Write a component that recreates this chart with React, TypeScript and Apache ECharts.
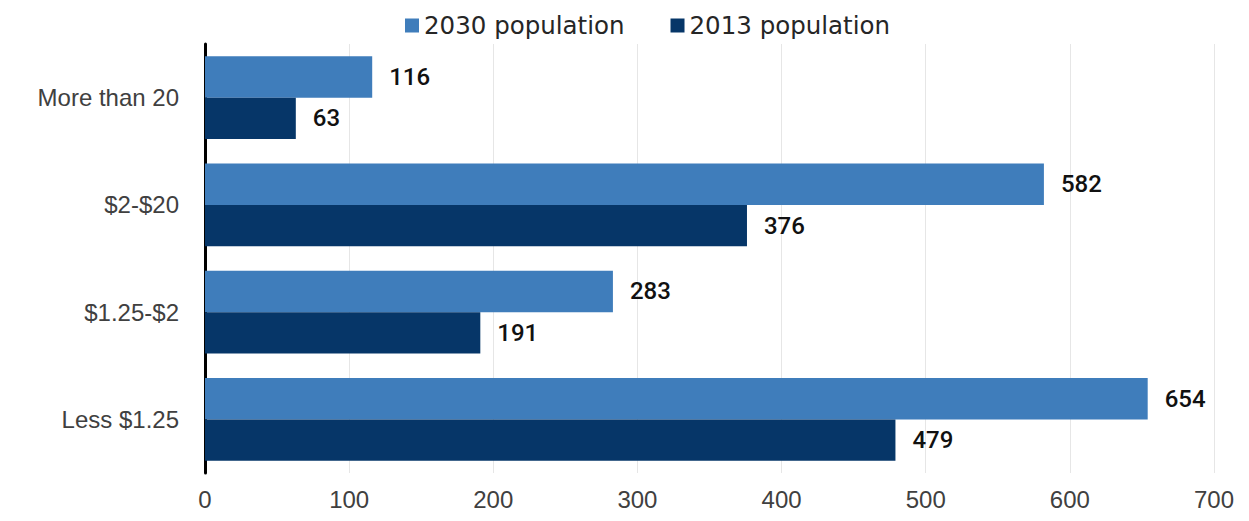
import React, { useEffect, useRef } from "react";
import * as echarts from "echarts";

const categories = ["Less $1.25", "$1.25-$2", "$2-$20", "More than 20"];
const pop2030 = [654, 283, 582, 116];
const pop2013 = [479, 191, 376, 63];
const xTicks = [0, 100, 200, 300, 400, 500, 600, 700];

export default function App() {
  const ref = useRef<HTMLDivElement>(null);
  useEffect(() => {
    if (!ref.current) return;
    const chart = echarts.init(ref.current, undefined, { renderer: "svg" });
    const font = "'Liberation Sans', Arial, sans-serif";
    const labelStyle = {
      show: true,
      position: "right" as const,
      distance: 17,
      color: "#111111",
      fontSize: 24,
      fontWeight: 500 as any,
      fontFamily: "Roboto, sans-serif",
    };
    chart.setOption({
      animation: false,
      backgroundColor: "#ffffff",
      textStyle: { fontFamily: font },
      legend: {
        top: 8,
        left: 400,
        itemWidth: 14,
        itemHeight: 14,
        itemGap: 46,
        icon: "rect",
        textStyle: { fontSize: 24.5, color: "#262626", fontFamily: "'DejaVu Sans', sans-serif" },
        data: ["2030 population", "2013 population"],
      },
      grid: { left: 205, right: 35, top: 44, bottom: 48, containLabel: false },
      xAxis: {
        type: "value",
        min: xTicks[0],
        max: xTicks[xTicks.length - 1],
        interval: 100,
        axisLine: { show: false },
        axisTick: { show: false },
        axisLabel: { fontSize: 24, color: "#404040", margin: 14, fontFamily: font },
        splitLine: { show: true, lineStyle: { color: "#e6e6e6", width: 1 } },
      },
      yAxis: {
        type: "category",
        data: categories,
        axisLine: { show: true, lineStyle: { color: "#000000", width: 3 } },
        axisTick: { show: false },
        axisLabel: { fontSize: 24, color: "#404040", margin: 26, fontFamily: font },
      },
      series: [
        {
          name: "2030 population",
          type: "bar",
          data: pop2030,
          itemStyle: { color: "#3f7dbb" },
          barGap: "0%",
          barCategoryGap: "23%",
          label: labelStyle,
        },
        {
          name: "2013 population",
          type: "bar",
          data: pop2013,
          itemStyle: { color: "#063668" },
          barGap: "0%",
          barCategoryGap: "23%",
          label: labelStyle,
        },
      ],
    });
    return () => chart.dispose();
  }, []);
  return (
    <div
      ref={ref}
      style={{ position: "absolute", left: 0, top: 0, width: 1249, height: 521 }}
    />
  );
}
